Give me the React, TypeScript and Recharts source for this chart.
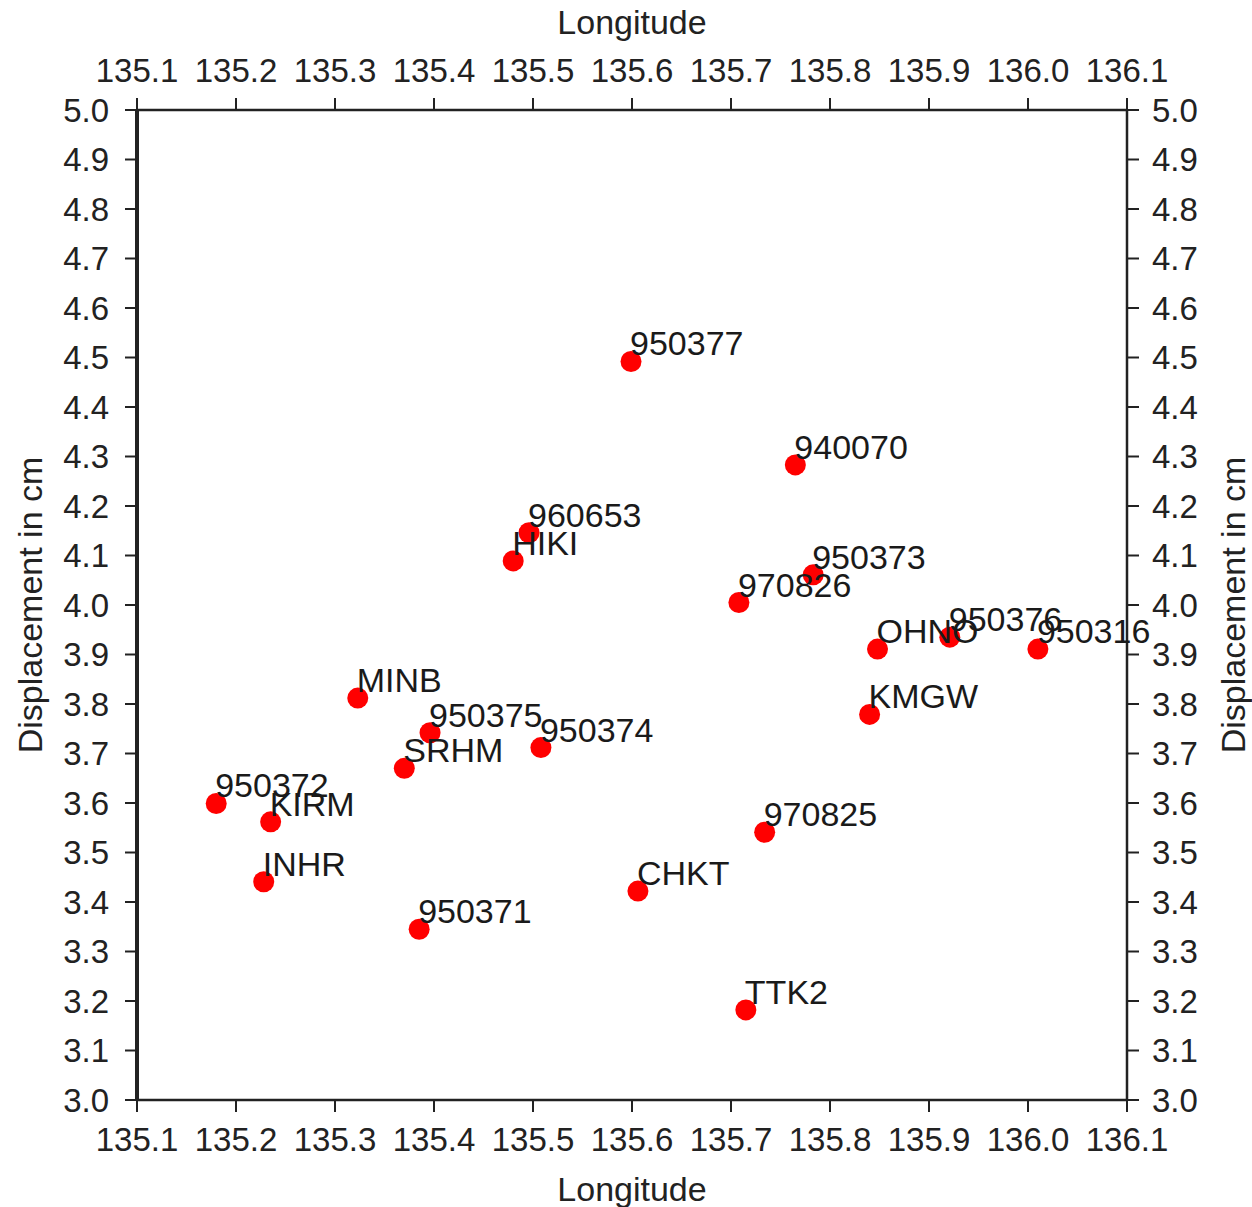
import React from 'react';
import { ScatterChart, Scatter, XAxis, YAxis, Label } from 'recharts';

const stationNames = [
  '950377', '940070', '960653', 'HIKI', '950373', '970826', 'OHNO', '950376', '950316', 'KMGW',
  'MINB', '950375', '950374', 'SRHM', '950372', 'KIRM', '970825', 'INHR', 'CHKT', '950371', 'TTK2',
];
const longitudes = [
  135.599, 135.765, 135.496, 135.48, 135.783, 135.708, 135.848, 135.921, 136.01, 135.84,
  135.323, 135.396, 135.508, 135.37, 135.18, 135.235, 135.734, 135.228, 135.606, 135.385, 135.715,
];
const displacements = [
  4.492, 4.283, 4.146, 4.089, 4.061, 4.005, 3.911, 3.935, 3.911, 3.779,
  3.812, 3.742, 3.712, 3.67, 3.599, 3.562, 3.541, 3.441, 3.422, 3.345, 3.182,
];
const xTicks = [135.1, 135.2, 135.3, 135.4, 135.5, 135.6, 135.7, 135.8, 135.9, 136.0, 136.1];
const yTicks = [
  3.0, 3.1, 3.2, 3.3, 3.4, 3.5, 3.6, 3.7, 3.8, 3.9, 4.0,
  4.1, 4.2, 4.3, 4.4, 4.5, 4.6, 4.7, 4.8, 4.9, 5.0,
];

const data = stationNames.map((name, i) => ({ name, lon: longitudes[i], disp: displacements[i] }));

const FONT = '"Liberation Sans", Arial, Helvetica, sans-serif';
const INK = '#222222';
const tickStyle = { fill: INK, fontSize: 33, fontFamily: FONT };
const titleStyle = { fill: INK, fontSize: 34, fontFamily: FONT };
const fmt = (v: number) => v.toFixed(1);

const Dot = (p: any) => <circle cx={p.cx} cy={p.cy} r={10.5} fill="#ff0000" />;
const Tag = (p: any) => (
  <text x={p.cx - 1} y={p.cy - 6} fontSize={34} fontFamily={FONT} fill="#1a1a1a">
    {p.payload.name}
  </text>
);

export default function App() {
  return (
    <div style={{ position: 'absolute', left: 0, top: 0, background: '#fff', fontFamily: FONT }}>
      <ScatterChart width={1252} height={1207} margin={{ top: 0, right: 0, bottom: 0, left: 0 }}>
        <XAxis
          xAxisId="bottom"
          type="number"
          dataKey="lon"
          domain={[135.1, 136.1]}
          ticks={xTicks}
          tickFormatter={fmt}
          interval={0}
          height={107}
          tickSize={12}
          tickMargin={16}
          tick={tickStyle}
          axisLine={{ stroke: INK, strokeWidth: 2.5 }}
          tickLine={{ stroke: INK, strokeWidth: 2 }}
        >
          <Label value="Longitude" position="insideBottom" offset={6} style={titleStyle} />
        </XAxis>
        <XAxis
          xAxisId="top"
          orientation="top"
          type="number"
          dataKey="lon"
          domain={[135.1, 136.1]}
          ticks={xTicks}
          tickFormatter={fmt}
          interval={0}
          height={110}
          tickSize={12}
          tickMargin={16}
          tick={tickStyle}
          axisLine={{ stroke: INK, strokeWidth: 2.5 }}
          tickLine={{ stroke: INK, strokeWidth: 2 }}
        >
          <Label value="Longitude" position="insideTop" offset={10} style={titleStyle} />
        </XAxis>
        <YAxis
          yAxisId="left"
          type="number"
          dataKey="disp"
          domain={[3.0, 5.0]}
          ticks={yTicks}
          tickFormatter={fmt}
          interval={0}
          width={137}
          tickSize={12}
          tickMargin={16}
          tick={tickStyle}
          axisLine={{ stroke: INK, strokeWidth: 4 }}
          tickLine={{ stroke: INK, strokeWidth: 2 }}
        >
          <Label
            value="Displacement in cm"
            position="insideLeft"
            angle={-90}
            offset={30}
            style={{ ...titleStyle, textAnchor: 'middle' }}
          />
        </YAxis>
        <YAxis
          yAxisId="right"
          orientation="right"
          type="number"
          dataKey="disp"
          domain={[3.0, 5.0]}
          ticks={yTicks}
          tickFormatter={fmt}
          interval={0}
          width={125}
          tickSize={12}
          tickMargin={13}
          tick={tickStyle}
          axisLine={{ stroke: INK, strokeWidth: 2.5 }}
          tickLine={{ stroke: INK, strokeWidth: 2 }}
        >
          <Label
            value="Displacement in cm"
            position="insideRight"
            angle={-90}
            offset={19}
            style={{ ...titleStyle, textAnchor: 'middle' }}
          />
        </YAxis>
        <Scatter data={data} xAxisId="bottom" yAxisId="left" shape={Dot} isAnimationActive={false} />
        <Scatter data={data} xAxisId="top" yAxisId="right" shape={Tag} isAnimationActive={false} />
      </ScatterChart>
    </div>
  );
}
